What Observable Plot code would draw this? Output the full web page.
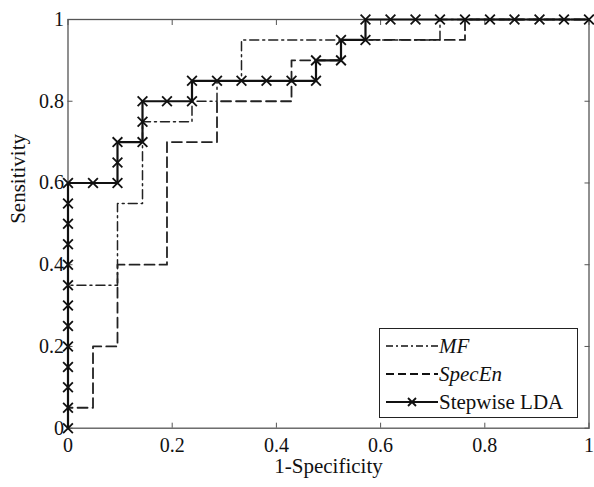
<!DOCTYPE html>
<html><head><meta charset="utf-8">
<script src="https://cdn.jsdelivr.net/npm/d3@7"></script>
<script src="https://cdn.jsdelivr.net/npm/@observablehq/plot@0.6"></script>
<style>
body{margin:0;background:#fff;}
#wrap{position:relative;width:594px;height:487px;}
#legend{position:absolute;left:379px;top:328px;width:199px;height:90px;border:1px solid #222;background:#fff;box-sizing:border-box;font-family:"Liberation Serif","Times New Roman",serif;font-size:21px;color:#111;}
#legend .row{position:absolute;left:0;height:28px;display:flex;align-items:center;}
#legend svg{display:block;}
#legend .lab{margin-left:1px;line-height:1;}
</style></head><body>
<div id="wrap"></div>
<script>
// Tick values
const xTicks = [0, 0.2, 0.4, 0.6, 0.8, 1];
const yTicks = [0, 0.2, 0.4, 0.6, 0.8, 1];

// Series names
const seriesNames = ["MF", "SpecEn", "Stepwise LDA"];

// Stepwise LDA ROC points (1-Specificity, Sensitivity)
const ldaFpr = [0,0,0,0,0,0,0,0,0,0,0,0,0,
  0.048,0.095,0.095,0.095,0.143,0.143,0.143,0.190,0.238,0.238,0.286,0.333,0.381,0.429,0.476,0.476,0.524,0.524,0.571,0.571,
  0.619,0.667,0.714,0.762,0.810,0.857,0.905,0.952,1];
const ldaTpr = [0,0.05,0.1,0.15,0.2,0.25,0.3,0.35,0.4,0.45,0.5,0.55,0.6,
  0.6,0.6,0.65,0.7,0.7,0.75,0.8,0.8,0.8,0.85,0.85,0.85,0.85,0.85,0.85,0.9,0.9,0.95,0.95,1,
  1,1,1,1,1,1,1,1,1];

// MF ROC staircase
const mfFpr = [0,0,0.095,0.095,0.143,0.143,0.238,0.238,0.286,0.286,0.333,0.333,0.714,0.714,1];
const mfTpr = [0,0.35,0.35,0.55,0.55,0.75,0.75,0.8,0.8,0.85,0.85,0.95,0.95,1,1];

// SpecEn ROC staircase
const seFpr = [0,0,0.048,0.048,0.095,0.095,0.190,0.190,0.286,0.286,0.429,0.429,0.524,0.524,0.762,0.762,1];
const seTpr = [0,0.05,0.05,0.2,0.2,0.4,0.4,0.7,0.7,0.8,0.8,0.9,0.9,0.95,0.95,1,1];

const toRows = (xs, ys) => xs.map((x, i) => ({x, y: ys[i]}));
const lda = toRows(ldaFpr, ldaTpr);
const mf = toRows(mfFpr, mfTpr);
const se = toRows(seFpr, seTpr);

const serif = "'Liberation Serif','Times New Roman',serif";
const fmt = d => String(d);
const ink = "#111";
const frameCol = "#555";

const chart = Plot.plot({
  width: 594,
  height: 487,
  marginLeft: 67.5,
  marginRight: 5.5,
  marginTop: 19,
  marginBottom: 59.3,
  style: {fontFamily: serif, fontSize: "20px", color: ink, background: "#fff"},
  x: {domain: [0, 1], ticks: xTicks, tickFormat: fmt},
  y: {domain: [0, 1], ticks: yTicks, tickFormat: fmt},
  marks: [
    Plot.frame({stroke: frameCol, strokeWidth: 1.3}),
    // inward ticks on all four sides
    Plot.axisX(xTicks, {anchor: "bottom", tickSize: -5, fill: "none", label: null, stroke: frameCol}),
    Plot.axisX(xTicks, {anchor: "top", tickSize: -5, fill: "none", label: null, stroke: frameCol}),
    Plot.axisY(yTicks, {anchor: "left", tickSize: -5, fill: "none", label: null, stroke: frameCol}),
    Plot.axisY(yTicks, {anchor: "right", tickSize: -5, fill: "none", label: null, stroke: frameCol}),
    // tick labels
    Plot.axisX(xTicks, {anchor: "bottom", tickSize: 0, tickPadding: 10, tickFormat: fmt, label: null, fill: ink}),
    Plot.axisY(yTicks, {anchor: "left", tickSize: 0, tickPadding: 4, tickFormat: fmt, label: null, fill: ink}),
    // axis titles
    Plot.text(["1-Specificity"], {frameAnchor: "bottom", dy: 38.5, lineAnchor: "middle", fontSize: 21, fill: ink}),
    Plot.text(["Sensitivity"], {frameAnchor: "left", dx: -50, rotate: -90, lineAnchor: "middle", fontSize: 21, fill: ink}),
    // curves
    Plot.line(se, {x: "x", y: "y", stroke: "#222", strokeWidth: 1.8, strokeDasharray: "10,5"}),
    Plot.line(mf, {x: "x", y: "y", stroke: "#222", strokeWidth: 1.5, strokeDasharray: "9,4,2,4"}),
    Plot.line(lda, {x: "x", y: "y", stroke: ink, strokeWidth: 2.2}),
    Plot.dot(lda, {x: "x", y: "y", symbol: "times", r: 4.5, stroke: ink, strokeWidth: 1.8})
  ]
});
const wrap = document.getElementById("wrap");
wrap.appendChild(chart);

// Legend (inside plot area, lower right)
const legend = document.createElement("div");
legend.id = "legend";
const styles = [
  {dash: "7,3,2,3", w: 1.5, marker: false, italic: true},
  {dash: "8,4", w: 1.8, marker: false, italic: true},
  {dash: null, w: 2.2, marker: true, italic: false}
];
const rowTops = [3, 31, 59];
seriesNames.forEach((name, i) => {
  const s = styles[i];
  const row = document.createElement("div");
  row.className = "row";
  row.style.top = rowTops[i] + "px";
  const svg = d3.create("svg").attr("width", 58).attr("height", 28);
  svg.append("line").attr("x1", 6).attr("x2", 58).attr("y1", 14).attr("y2", 14)
    .attr("stroke", ink).attr("stroke-width", s.w)
    .attr("stroke-dasharray", s.dash);
  if (s.marker) {
    svg.append("path").attr("d", "M28,10L36,18M36,10L28,18").attr("stroke", ink).attr("stroke-width", 1.8);
  }
  row.appendChild(svg.node());
  const lab = document.createElement("span");
  lab.className = "lab";
  lab.textContent = name;
  if (s.italic) lab.style.fontStyle = "italic";
  row.appendChild(lab);
  legend.appendChild(row);
});
wrap.appendChild(legend);
</script>
</body></html>
